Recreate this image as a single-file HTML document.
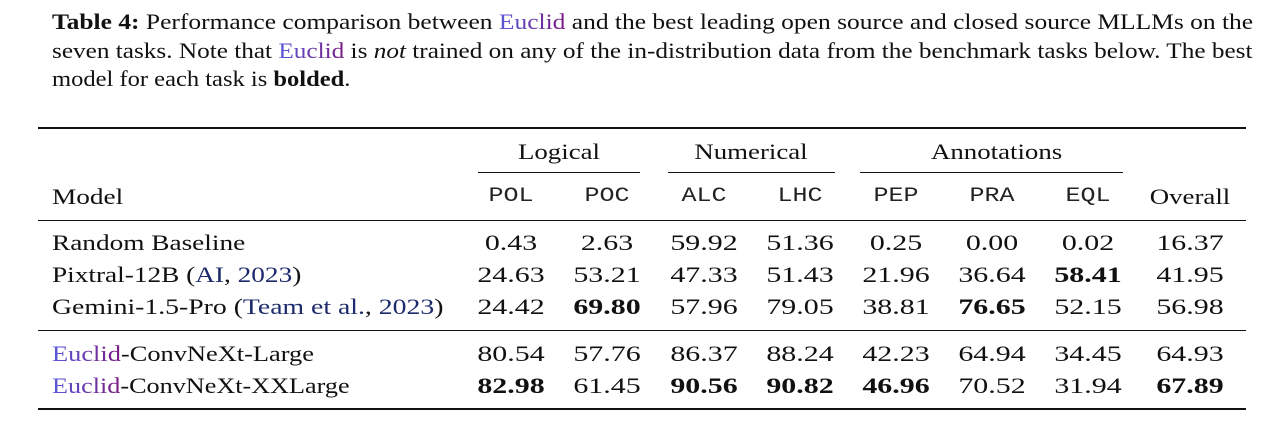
<!DOCTYPE html>
<html><head><meta charset="utf-8">
<style>
body{margin:0;width:1280px;height:432px;background:#fff;position:relative;overflow:hidden;font-family:"Liberation Serif",serif;color:#111;}
.a{position:absolute;white-space:nowrap;line-height:1;transform-origin:0 50%;}
.cap{font-size:22px;left:52px;}
.eu{background:linear-gradient(90deg,#5a5ad8,#7a1a84);-webkit-background-clip:text;background-clip:text;color:transparent;}
.ln{color:#1d2a6b;}
.r{position:absolute;background:#111;}
.c{position:absolute;width:100px;text-align:center;font-size:22px;line-height:1;transform:scaleX(1.36);}
.g{transform:scaleX(1.22);}
.m{font-family:"Liberation Mono",monospace;font-size:20px;color:#222;transform:scaleX(1.25);}
.t{font-size:22px;transform:scaleX(1.24);}
</style></head><body>
<div class="a cap" style="top:11px;transform:scaleX(1.158)"><b>Table 4:</b> Performance comparison between <span class="eu">Euclid</span> and the best leading open source and closed source MLLMs on the</div>
<div class="a cap" style="top:40px;transform:scaleX(1.147)">seven tasks. Note that <span class="eu">Euclid</span> is <i>not</i> trained on any of the in-distribution data from the benchmark tasks below. The best</div>
<div class="a cap" style="top:68px;transform:scaleX(1.115)">model for each task is <b>bolded</b>.</div>

<div class="r" style="left:38px;width:1208px;top:127px;height:2px"></div>
<div class="r" style="left:478px;width:162px;top:172px;height:1px"></div>
<div class="r" style="left:668px;width:167px;top:172px;height:1px"></div>
<div class="r" style="left:860px;width:263px;top:172px;height:1px"></div>
<div class="r" style="left:38px;width:1208px;top:220px;height:1px"></div>
<div class="r" style="left:38px;width:1208px;top:330px;height:1px"></div>
<div class="r" style="left:38px;width:1208px;top:408px;height:2px"></div>

<div class="c g" style="left:509px;top:141px">Logical</div>
<div class="c g" style="left:701px;top:141px">Numerical</div>
<div class="c g" style="left:942px;top:141px">Annotations</div>
<div id="tbl"></div>
<script>
const cols=["POL","POC","ALC","LHC","PEP","PRA","EQL","Overall"];
const models=["Random Baseline","Pixtral-12B (<span class='ln'>AI</span>, <span class='ln'>2023</span>)","Gemini-1.5-Pro (<span class='ln'>Team et al.</span>, <span class='ln'>2023</span>)","<span class='eu'>Euclid</span>-ConvNeXt-Large","<span class='eu'>Euclid</span>-ConvNeXt-XXLarge"];
const vals=[["0.43","2.63","59.92","51.36","0.25","0.00","0.02","16.37"],
["24.63","53.21","47.33","51.43","21.96","36.64","*58.41","41.95"],
["24.42","*69.80","57.96","79.05","38.81","*76.65","52.15","56.98"],
["80.54","57.76","86.37","88.24","42.23","64.94","34.45","64.93"],
["*82.98","61.45","*90.56","*90.82","*46.96","70.52","31.94","*67.89"]];
const cx=[511,607,704,800,896,992,1088,1190];
const ry=[243,275,307,354,386];
const ms=[1.24,1.24,1.26,1.2,1.19];
let h='';
h+=`<div class="a t" style="left:52px;top:186px">Model</div>`;
cols.forEach((c,i)=>{h+=`<div class="c ${i<7?'m':'g'}" style="left:${cx[i]-50}px;top:${i<7?187:186}px">${c}</div>`;});
models.forEach((m,r)=>{
 h+=`<div class="a t" style="left:52px;top:${ry[r]-11}px;transform:scaleX(${ms[r]})">${m}</div>`;
 vals[r].forEach((v,i)=>{const b=v[0]=='*';h+=`<div class="c" style="left:${cx[i]-50}px;top:${ry[r]-11}px;${b?'font-weight:bold':''}">${b?v.slice(1):v}</div>`;});
});
document.getElementById('tbl').innerHTML=h;
</script>
</body></html>
